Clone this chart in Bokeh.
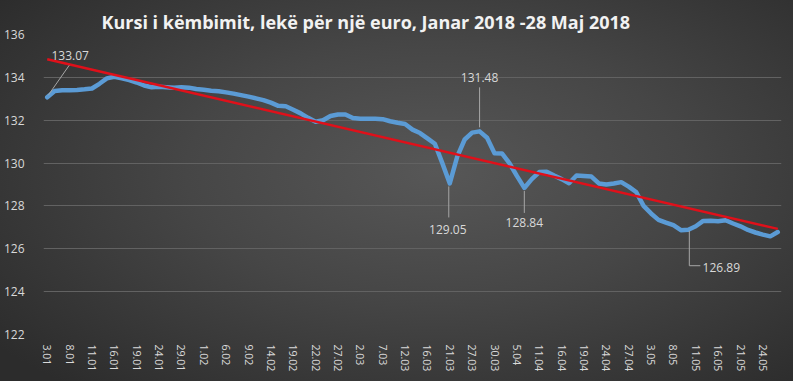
import numpy as np
from bokeh.plotting import figure
from bokeh.models import FixedTicker, Range1d, ColumnDataSource
from bokeh.core.properties import value
from bokeh.embed import file_html
from bokeh.resources import INLINE

title_text = "Kursi i këmbimit, lekë për një euro, Janar 2018 -28 Maj 2018"

dates = [
    "3.01", "4.01", "5.01", "8.01", "9.01", "10.01", "11.01", "12.01", "15.01", "16.01",
    "17.01", "18.01", "19.01", "22.01", "23.01", "24.01", "25.01", "26.01", "29.01", "30.01",
    "31.01",
    "1.02", "2.02", "5.02", "6.02", "7.02", "8.02", "9.02", "12.02", "13.02", "14.02",
    "15.02", "16.02", "19.02", "20.02", "21.02", "22.02", "23.02", "26.02", "27.02", "28.02",
    "1.03", "2.03", "5.03", "6.03", "7.03", "8.03", "9.03", "12.03", "13.03", "15.03",
    "16.03", "19.03", "20.03", "21.03", "23.03", "26.03", "27.03", "28.03", "29.03", "30.03",
    "3.04", "4.04", "5.04", "6.04", "10.04", "11.04", "12.04", "13.04", "16.04", "17.04",
    "18.04", "19.04", "20.04", "23.04", "24.04", "25.04", "26.04", "27.04", "30.04",
    "2.05", "3.05", "4.05", "7.05", "8.05", "9.05", "10.05", "11.05", "14.05", "15.05",
    "16.05", "17.05", "18.05", "21.05", "22.05", "23.05", "24.05", "25.05", "28.05",
]

rates = [
    133.07, 133.36, 133.40, 133.40, 133.41, 133.44, 133.48, 133.70, 133.95, 134.03,
    133.95, 133.87, 133.76, 133.62, 133.54, 133.56, 133.54, 133.51, 133.54, 133.52,
    133.46, 133.42, 133.38, 133.35, 133.30, 133.24, 133.17, 133.10, 133.02, 132.94,
    132.82, 132.67, 132.65, 132.49, 132.32, 132.11, 131.93, 132.00, 132.20, 132.27,
    132.27, 132.10, 132.07, 132.07, 132.07, 132.05, 131.95, 131.88, 131.82, 131.56,
    131.40, 131.15, 130.90, 130.00, 129.05, 130.30, 131.10, 131.42, 131.48, 131.18,
    130.46, 130.45, 130.00, 129.40, 128.84, 129.25, 129.58, 129.60, 129.42, 129.25,
    129.06, 129.42, 129.40, 129.37, 129.05, 129.00, 129.05, 129.11, 128.90, 128.65,
    128.00, 127.65, 127.35, 127.22, 127.10, 126.87, 126.89, 127.05, 127.30, 127.31,
    127.29, 127.33, 127.18, 127.05, 126.88, 126.76, 126.66, 126.58, 126.78,
]

y_ticks = [122, 124, 126, 128, 130, 132, 134, 136]
label_step = 3
annotated = [0, 54, 58, 64, 86]

# ---- styling / layout (pixels) ----
FRAME_W, FRAME_H = 738, 300
Y_MIN, Y_MAX = 122, 136
# leader polylines and label centres as pixel offsets from the point (screen y down)
leader_offsets = [
    [(1, -2), (22, -32)],
    [(-1, 3), (-1, 34)],
    [(0, -4), (0, -44)],
    [(0, 3), (0, 25)],
    [(1, 1), (1, 36), (12, 36)],
]
label_offsets = [(23, -42), (-2, 46), (0, -54), (0, 35), (33, 38)]

n = len(dates)
xs = list(range(n))

p = figure(
    frame_width=FRAME_W, frame_height=FRAME_H,
    x_range=Range1d(-0.5, n - 0.5), y_range=Range1d(Y_MIN, Y_MAX),
    output_backend="svg", toolbar_location=None,
    min_border_left=34, min_border_right=12, min_border_top=34, min_border_bottom=47,
)
p.background_fill_alpha = 0
p.border_fill_alpha = 0
p.outline_line_color = None
p.styles = {"background": "radial-gradient(ellipse 70% 75% at 55% 45%, #575757 0%, #464646 45%, #2c2c2c 100%)"}

p.title.text = title_text
p.title.align = "left"
p.title.offset = 58
p.title.standoff = 2
p.title.text_color = "#f2f2f2"
p.title.text_font = "Open Sans"
p.title.text_font_style = "bold"
p.title.text_font_size = "18px"

p.xgrid.visible = False
p.ygrid.ticker = FixedTicker(ticks=y_ticks)
p.ygrid.grid_line_color = "#626262"
p.ygrid.grid_line_width = 1

p.yaxis.ticker = FixedTicker(ticks=y_ticks)
p.yaxis.axis_line_color = None
p.yaxis.major_tick_line_color = None
p.yaxis.minor_tick_line_color = None
p.yaxis.major_tick_out = 0
p.yaxis.major_tick_in = 0
p.yaxis.minor_tick_out = 0
p.yaxis.major_label_standoff = 19
p.yaxis.major_label_text_color = "#d9d9d9"
p.yaxis.major_label_text_font = "Open Sans"
p.yaxis.major_label_text_font_size = "12px"

xticks = list(range(0, n, label_step))
p.xaxis.ticker = FixedTicker(ticks=xticks)
p.xaxis.major_label_overrides = {i: dates[i] for i in xticks}
p.xaxis.major_label_orientation = "vertical"
p.xaxis.axis_line_color = None
p.xaxis.major_tick_line_color = None
p.xaxis.minor_tick_line_color = None
p.xaxis.major_tick_out = 0
p.xaxis.major_tick_in = 0
p.xaxis.minor_tick_out = 0
p.xaxis.major_label_standoff = 10
p.xaxis.major_label_text_color = "#d9d9d9"
p.xaxis.major_label_text_font = "Open Sans"
p.xaxis.major_label_text_font_size = "10.5px"

# main series
p.line(xs, rates, line_color="#5b9bd5", line_width=4.5, line_join="round", line_cap="round")

# linear trend line (least squares on the data)
slope, intercept = np.polyfit(xs, rates, 1)
trend = [intercept + slope * x for x in (xs[0], xs[-1])]
p.line([xs[0], xs[-1]], trend, line_color="#e0101a", line_width=2.5)

# data labels with leader lines
px_x = FRAME_W / n
px_y = FRAME_H / (Y_MAX - Y_MIN)
lx, ly = [], []
for idx, offs in zip(annotated, leader_offsets):
    lx.append([idx + dx / px_x for dx, dy in offs])
    ly.append([rates[idx] - dy / px_y for dx, dy in offs])
p.multi_line(lx, ly, line_color="#a6a6a6", line_width=1)

src = ColumnDataSource(dict(
    x=list(annotated),
    y=[rates[i] for i in annotated],
    t=[f"{rates[i]:.2f}" for i in annotated],
    xo=[o[0] for o in label_offsets],
    yo=[o[1] for o in label_offsets],
))
p.text(x="x", y="y", text="t", x_offset="xo", y_offset="yo", source=src,
       text_align="center", text_baseline="middle", text_color="#d9d9d9",
       text_font=value("Open Sans"), text_font_size="12px")

open("out.html", "w").write(file_html(p, INLINE))
